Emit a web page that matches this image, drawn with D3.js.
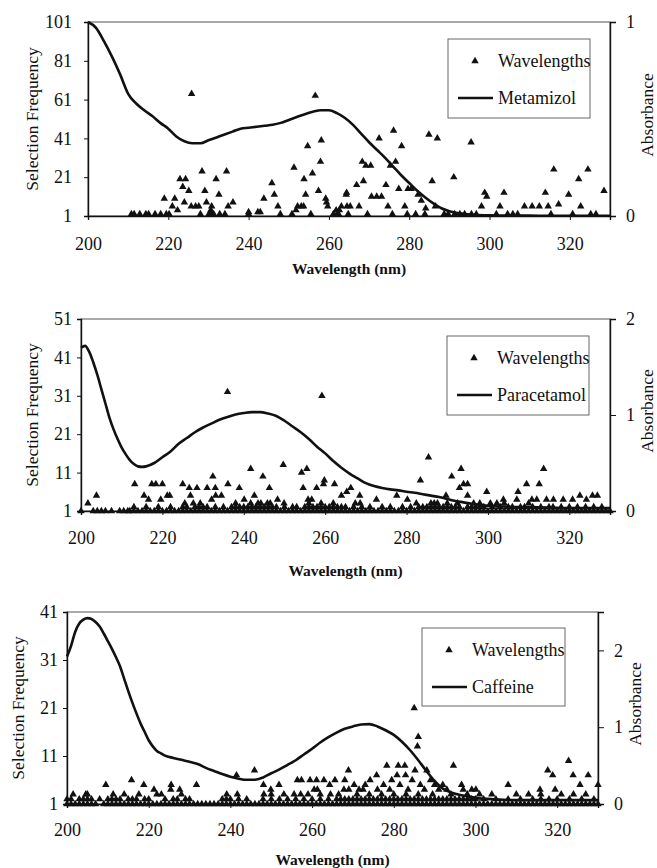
<!DOCTYPE html>
<html>
<head>
<meta charset="utf-8">
<script src="https://cdn.jsdelivr.net/npm/d3@7"></script>
<style>
body { margin: 0; background: #fff; }
svg { display: block; }
</style>
</head>
<body>
<div id="chart"></div>
<script>
let width = 657, height = 868;
let serif = "'Liberation Serif', 'Times New Roman', Times, serif";

let wlTicks = [200, 220, 240, 260, 280, 300, 320];

// absorbance spectra (right axis)
let metWl = [200,202,204,206,208,210,212,214,216,218,220,222,224,226,228,230,232,234,236,238,240,242,244,246,248,250,252,254,256,258,260,262,264,266,268,270,272,274,276,278,280,282,284,286,288,290,292,294,296,300,305,310,315,320,325,330];
let metAbs = [1.00,0.97,0.90,0.82,0.73,0.63,0.58,0.545,0.515,0.48,0.45,0.41,0.385,0.375,0.375,0.39,0.405,0.42,0.435,0.45,0.455,0.46,0.465,0.47,0.48,0.495,0.51,0.525,0.537,0.545,0.545,0.53,0.505,0.47,0.425,0.38,0.34,0.30,0.255,0.21,0.17,0.13,0.095,0.065,0.04,0.025,0.015,0.01,0.006,0.003,0.002,0.002,0.001,0.001,0.001,0.001];

let paraWl = [200,201,202,203,204,205,206,207,208,209,210,211,212,213,214,215,216,218,220,222,224,226,228,230,232,234,236,238,240,242,244,246,248,250,252,254,256,258,260,262,264,266,268,270,272,274,276,278,280,282,284,286,288,290,292,294,296,298,300,305,310,315,320,325,330];
let paraAbs = [1.70,1.72,1.66,1.55,1.42,1.27,1.12,0.97,0.85,0.75,0.66,0.59,0.53,0.49,0.465,0.46,0.465,0.50,0.56,0.62,0.70,0.76,0.82,0.87,0.91,0.95,0.98,1.005,1.02,1.03,1.03,1.015,0.99,0.94,0.88,0.82,0.75,0.67,0.60,0.52,0.45,0.39,0.34,0.29,0.26,0.24,0.225,0.215,0.20,0.19,0.175,0.16,0.145,0.125,0.105,0.09,0.075,0.065,0.055,0.045,0.04,0.035,0.03,0.03,0.03];

let cafWl = [200,201,202,203,204,205,206,207,208,209,210,211,212,213,214,215,216,217,218,219,220,221,222,223,224,226,228,230,232,234,236,238,240,242,244,246,248,250,252,254,256,258,260,262,264,266,268,270,272,274,276,278,280,282,284,286,288,290,292,294,296,298,300,305,310,320,330];
let cafAbs = [1.92,2.06,2.24,2.35,2.40,2.42,2.41,2.37,2.31,2.22,2.12,2.02,1.91,1.79,1.63,1.47,1.32,1.18,1.05,0.94,0.83,0.75,0.69,0.66,0.63,0.60,0.575,0.55,0.52,0.47,0.43,0.39,0.355,0.33,0.315,0.315,0.345,0.40,0.45,0.51,0.57,0.645,0.72,0.80,0.87,0.93,0.98,1.01,1.035,1.04,1.01,0.96,0.90,0.81,0.70,0.57,0.43,0.30,0.20,0.15,0.12,0.10,0.08,0.06,0.05,0.05,0.05];

// selected wavelengths: [wavelength, selection frequency]
let metSel = [[225.8,64],[256.6,63],[258.1,40],[254.7,37],[257.9,29],[251.3,26],[255.9,23],[253.8,20],[228.4,24],[234.5,24],
  [222.9,20],[224.3,20],[231.9,20],[223.6,16],[225.1,14],[229.1,14],[245.8,18],[246.4,12],[232.6,12],[219,10],[221.6,10],
  [243.8,10],[254.2,12],[257.4,14],[264.3,12],[224,8],[229.5,8],[236.1,8],[259.2,10],[259.4,8],[221,6],[225.7,6],[226.8,6],
  [227.6,6],[230.8,6],[234.9,6],[247.3,6],[252.2,6],[253.1,6],[253.7,6],[259.7,6],[263.1,6],[264.5,6],[222.3,4],[230.6,4],
  [240,3],[242.3,3],[242.9,3],[251.8,4],[261.8,4],[262.6,4],
  [276.1,45],[272.5,41],[278.1,37],[284.9,43],[287,41],[295.4,39],[268.3,29],[269.2,27],[270.4,27],[275.3,27],[276.6,29],
  [316,25],[324.5,25],[322.2,20],[285.7,19],[291.1,21],[268.6,19],[266.9,17],[274.2,17],[264.4,13],[270.6,11],[271.9,11],
  [273.1,11],[277.4,15],[279.7,15],[280.5,15],[282.2,12],[283,9],[298.8,13],[299.3,11],[303.6,13],[313.9,13],[319.7,12],
  [328.5,14],[265.3,6],[267.5,6],[274.7,6],[278.9,6],[284.1,5],[286.5,6],[298,6],[302.6,6],[308.7,6],[310.6,6],[312.4,6],
  [314.6,6],[317.2,7],[322.7,6]];
let metLow = [210.8,211.5,212.9,214.4,215.1,216.7,218.1,219.5,220.2,228,230.1,230.8,231.3,232.8,234.1,240,247.9,250.8,
  255.5,261.1,262,262.4,264.8,269.6,275.8,279.5,281.6,283.9,288.7,289.7,291.3,292.6,293.8,295.5,296.7,301.7,304.5,305.8,
  307,315.3,320.7,325.2,326.5];

let paraSel = [[236,32],[259.2,31],[241.7,12],[249.7,13],[255.5,12],[254.2,11],[232.4,10],[244.7,10],[213.2,8],[217.4,8],
  [218.4,8],[220,8],[225,8],[226.6,7],[228.5,7],[231,7],[233,7],[236.1,8],[238.9,7],[246.3,7],[259.8,9],[259.6,8],[262.3,8],
  [254.6,7],[257.9,7],[215.5,5],[226.9,5],[233.1,5],[242.6,5],[221.2,5],[221.8,5],[234.5,5],[203.8,5],[216.6,4],[219.6,4],
  [232.1,4],[248.3,4],[255.8,4],[256.7,4],[264,5],[201.7,3],[225.5,3],[227.6,3],[229.3,3],[240.1,4],[241.7,3],[244.2,3],
  [245.8,3],[249.9,3],
  [285.4,15],[293.4,12],[291.1,10],[313.7,12],[283.4,9],[293,7],[294,8],[295,8],[312.6,8],[309.5,8],[307.4,6],[266.3,7],
  [265.3,6],[268.5,5],[272.6,4],[277.6,5],[280.2,4],[282.4,3],[289.7,5],[295,5],[299.7,6],[303.8,4],[307.1,4],[310.8,4],
  [312,4],[314.4,4],[316.1,4],[318.5,4],[320.8,4],[322.6,5],[324.2,4],[325.7,5],[326.9,5],[267.4,3],[268.6,3],[286.8,3],
  [287.6,3],[296.5,3],[300.6,3],[302.2,3],[238,3],[243.5,3],[246.5,3],[256,3],[259,3],[262,3],[286,3],[290,3],[292.5,3],
  [298,3],[304,3],[310,3]];
let paraLow1 = [200,203,204,205,206,207.5,209.5,210.5,211.5,212,213,214,215,216,217,218,219,220,221,222,223,224,225,226,
  227,228,229,230,231,232,233,234,235,236,237,238,239,240,241,242,243,244,245,246,247,248,249,250,251,252,253,254,255,
  256,257,258,259,260,261,262,263,264,265,266,267,268,269,270,271,272,273,274,275,276,277,278,279,280,281,282,283,284,
  285,286,287,288,289,290,291,292,293,294,295,296,297,298,299,300,301,302,303,304,305,306,307,308,309,310,311,312,313,
  314,315,316,317,318,319,320,321,322,323,324,325,326,327,328,329,330];
let paraLow2 = [213,216,219,222,225,226,228,229,230,231,233,235,237,238,239,240,241,242,243,244,245,246,247,248,250,252,
  253,255,256,257,258,259,260,261,262,263,264,265,267,269,271,274,276,279,281,283,284,285,286,287,288,289,290,291,292,
  293,295,296,297,298,299,301,303,305,306,308,309,311,313,315,316,318,320,322,324,326,328];

let cafSel = [[245.9,8],[241.5,7],[209.5,5],[215.8,6],[218.8,5],[225.5,5],[231.7,5],[248.1,5],[251.9,5],[256.4,6],[257.4,6],
  [259.5,6],[261.1,6],[262.9,6],[264.3,5],[221.3,4],[214,3],[211.3,3],[223.1,3],[227.6,4],[228,3],[249.9,4],[253.1,3],
  [255.6,3],[257.2,3],[260.5,4],[261.3,4],[248.2,3],[204.6,3],[217.6,3],[239.1,3],[241.7,3],[225.4,4],[201.5,3],[205,3],
  [222,3],[250,3],[259,3],[262,3],
  [285,21],[286,15],[285.8,13],[294.6,9],[322.8,10],[317.7,8],[318.9,7],[323.9,7],[327.6,7],[325.6,5],[330,5],[268.9,8],
  [278.3,9],[281.1,9],[282.7,9],[285.2,8],[288.1,8],[275.8,7],[274.2,6],[279.5,6],[280.8,7],[282.9,7],[265.6,6],[268,6],
  [270.3,5],[267.8,4],[272.5,4],[296.6,5],[299.1,4],[308,5],[315.8,4],[319.5,4],[297,4],[300.1,4],[266.5,3],[269,4],
  [271,3],[273,5],[276,4],[277.5,5],[279,4],[281.5,5],[283.5,4],[284.5,6],[286.5,5],[287.5,4],[289,6],[290,5],[291,4],
  [292,5],[293,4],[289.5,3],[286,3],[283,3],[280,3],[277,3],[274,3],[271.5,4],[264.5,3],[294,3],[298,3],[301,3],[304,3],
  [310,3],[313,3],[316,3],[321,3],[324,3],[327,3]];
let cafLow1 = [200,201,202,203,204,205,206,207,209,210,211,212,213,214,215,216,217,218,219,220,221,222,223,224,225,226,
  227,228,229,230,231,232,233,234,235,236,237,238,239,240,241,242,243,244,245,246,247,248,249,250,251,252,253,254,255,
  256,257,258,259,260,261,262,263,264,265,266,267,268,269,270,271,272,273,274,275,276,277,278,279,280,281,282,283,284,
  285,286,287,288,289,290,291,292,293,294,295,296,297,298,299,300,301,302,303,304,305,306,307,308,309,310,311,312,313,
  314,315,316,317,318,319,320,321,322,323,324,325,326,327,328,329,330];
let cafLow2 = [200,201,203,204,205,206,208,210,211,212,213,215,216,217,219,220,224,226,227,229,230,238,239,240,242,244,
  248,250,252,254,256,258,260,262,264,266,267,268,269,270,271,272,273,274,275,276,277,278,279,280,281,282,283,284,285,
  286,287,288,289,290,291,292,293,294,295,296,297,298,299,300,302,305,308,311,314,316,318,320,323,326,329];

let panels = [
  { name: "Metamizol", wl: metWl, abs: metAbs,
    pts: metSel.concat(metLow.map(w => [w, 2])),
    left: 88, right: 610, top: 22, bottom: 216,
    yDom: [1, 101], yTicks: [1, 21, 41, 61, 81, 101], yPad: 12,
    aDom: [0, 1], aTicks: [0, 1], xPad: 17,
    legend: { x: 448, y: 39, w: 142, h: 79 }, selX: 32, absX: 647, wlY: 274 },
  { name: "Paracetamol", wl: paraWl, abs: paraAbs,
    pts: paraSel.concat(paraLow2.map(w => [w, 2]), paraLow1.map(w => [w, 1])),
    left: 81, right: 610, top: 319, bottom: 511,
    yDom: [1, 51], yTicks: [1, 11, 21, 31, 41, 51], yPad: 5,
    aDom: [0, 2], aTicks: [0, 1, 2], xPad: 16,
    legend: { x: 447, y: 336, w: 142, h: 79 }, selX: 32, absX: 647, wlY: 576 },
  { name: "Caffeine", wl: cafWl, abs: cafAbs,
    pts: cafSel.concat(cafLow2.map(w => [w, 2]), cafLow1.map(w => [w, 1])),
    left: 67, right: 598, top: 612, bottom: 804,
    yDom: [1, 41], yTicks: [1, 11, 21, 31, 41], yPad: 5,
    aDom: [0, 2.5], aTicks: [0, 1, 2], xPad: 15,
    legend: { x: 422, y: 628, w: 143, h: 78 }, selX: 18, absX: 635, wlY: 865 }
];

let svg = d3.select("#chart")
  .append("svg")
  .attr("width", width)
  .attr("height", height)
  .attr("font-family", serif);

let tri = d3.symbol().type(d3.symbolTriangle).size(24);

panels.forEach(p => {
  let x = d3.scaleLinear().domain([200, 330]).range([p.left, p.right]);
  let y = d3.scaleLinear().domain(p.yDom).range([p.bottom, p.top]);
  let a = d3.scaleLinear().domain(p.aDom).range([p.bottom, p.top]);

  let g = svg.append("g");

  // plot frame
  g.append("rect")
    .attr("x", p.left).attr("y", p.top)
    .attr("width", p.right - p.left).attr("height", p.bottom - p.top)
    .attr("fill", "none").attr("stroke", "#555").attr("stroke-width", 1);

  let styleAxis = ax => ax
    .attr("font-size", 18)
    .attr("font-family", serif)
    .call(s => s.select(".domain").attr("stroke", "#111").attr("stroke-width", 1.4))
    .call(s => s.selectAll(".tick line").attr("stroke", "#111"))
    .call(s => s.selectAll(".tick text").attr("fill", "#111"));

  g.append("g")
    .attr("transform", `translate(0,${p.bottom})`)
    .call(d3.axisBottom(x).tickValues(wlTicks).tickSize(4).tickPadding(p.xPad))
    .call(styleAxis);

  g.append("g")
    .attr("transform", `translate(${p.left},0)`)
    .call(d3.axisLeft(y).tickValues(p.yTicks).tickSize(4).tickPadding(p.yPad))
    .call(styleAxis);

  g.append("g")
    .attr("transform", `translate(${p.right},0)`)
    .call(d3.axisRight(a).tickValues(p.aTicks).tickFormat(d3.format("d")).tickSize(6).tickPadding(10))
    .call(styleAxis);

  // axis titles
  g.append("text")
    .attr("transform", `translate(${p.selX},${(p.top + p.bottom) / 2}) rotate(-90)`)
    .attr("text-anchor", "middle").attr("dy", "0.35em")
    .attr("font-size", 17.5).attr("fill", "#111")
    .text("Selection Frequency");

  g.append("text")
    .attr("transform", `translate(${p.absX},${(p.top + p.bottom) / 2 - 4}) rotate(-90)`)
    .attr("text-anchor", "middle").attr("dy", "0.35em")
    .attr("font-size", 17.5).attr("fill", "#111")
    .text("Absorbance");

  g.append("text")
    .attr("x", (p.left + p.right) / 2).attr("y", p.wlY)
    .attr("text-anchor", "middle")
    .attr("font-size", 15.5).attr("font-weight", "bold").attr("fill", "#111")
    .text("Wavelength (nm)");

  // selected wavelengths
  g.append("g")
    .selectAll("path")
    .data(p.pts)
    .join("path")
    .attr("transform", d => `translate(${x(d[0])},${y(d[1])})`)
    .attr("d", tri)
    .attr("fill", "#111");

  // spectrum
  let line = d3.line()
    .x(d => x(d[0]))
    .y(d => a(d[1]))
    .curve(d3.curveMonotoneX);

  g.append("path")
    .datum(d3.zip(p.wl, p.abs))
    .attr("fill", "none")
    .attr("stroke", "#111")
    .attr("stroke-width", 2.6)
    .attr("stroke-linejoin", "round")
    .attr("d", line);

  // legend
  let L = p.legend;
  let lg = g.append("g").attr("transform", `translate(${L.x},${L.y})`);
  lg.append("rect")
    .attr("width", L.w).attr("height", L.h)
    .attr("fill", "#fff").attr("stroke", "#666").attr("stroke-width", 1);
  lg.append("path")
    .attr("transform", "translate(27,22)")
    .attr("d", tri).attr("fill", "#111");
  lg.append("text")
    .attr("x", 50).attr("y", 22).attr("dy", "0.35em")
    .attr("font-size", 18).attr("fill", "#111")
    .text("Wavelengths");
  lg.append("line")
    .attr("x1", 10).attr("x2", 45).attr("y1", 59).attr("y2", 59)
    .attr("stroke", "#111").attr("stroke-width", 2.6);
  lg.append("text")
    .attr("x", 50).attr("y", 59).attr("dy", "0.35em")
    .attr("font-size", 18).attr("fill", "#111")
    .text(p.name);
});
</script>
</body>
</html>
